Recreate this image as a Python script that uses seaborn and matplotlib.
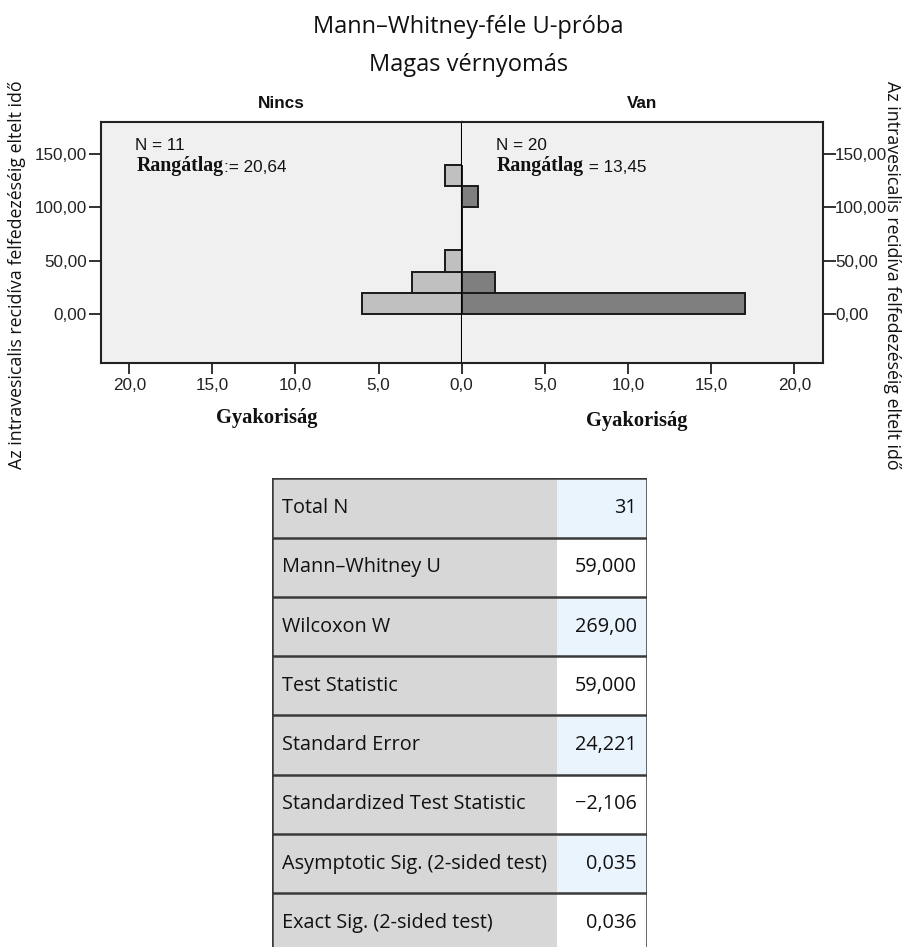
import numpy as np
import pandas as pd
import seaborn as sns
import matplotlib.pyplot as plt
from matplotlib.patches import Rectangle

# histogram bins (time, lower edges) and counts per group
bin_edges = [0, 20, 40, 60, 80, 100, 120, 140]
counts_nincs = [6, 3, 1, 0, 0, 0, 1]
counts_van = [17, 2, 0, 0, 0, 1, 0]

group_names = ["Nincs", "Van"]
group_n = [11, 20]
rank_means = ["20,64", "13,45"]

y_ticks = [0, 50, 100, 150]
x_ticks = [0, 5, 10, 15, 20]

# test summary table
stat_labels = ["Total N", "Mann\u2013Whitney U", "Wilcoxon W", "Test Statistic",
               "Standard Error", "Standardized Test Statistic",
               "Asymptotic Sig. (2-sided test)", "Exact Sig. (2-sided test)"]
stat_values = ["31", "59,000", "269,00", "59,000", "24,221", "\u22122,106", "0,035", "0,036"]

sns.set_theme(style="white")
plt.rcParams['font.family'] = ['Liberation Sans', 'DejaVu Sans']

W, H = 909, 947
fig = plt.figure(figsize=(W / 100, H / 100), dpi=100)

def fx(px):
    return px / W

def fy(px):
    return 1 - px / H

top, bot = 121.7, 362.7
ax_l = fig.add_axes([fx(101), fy(bot), fx(461.7 - 101), (bot - top) / H])
ax_r = fig.add_axes([fx(461.7), fy(bot), fx(822.7 - 461.7), (bot - top) / H])

centers = [e + 10 for e in bin_edges[:-1]]
hist_df = pd.DataFrame({"t": centers, "nincs": counts_nincs, "van": counts_van})

sns.histplot(data=hist_df, y="t", weights="nincs", bins=bin_edges, ax=ax_l,
             color="#c0c0c0", edgecolor="#1a1a1a", linewidth=1.4, alpha=1)
sns.histplot(data=hist_df, y="t", weights="van", bins=bin_edges, ax=ax_r,
             color="#7f7f7f", edgecolor="#1a1a1a", linewidth=1.4, alpha=1)

def fmt2(v):
    return f"{v:.2f}".replace(".", ",")

def fmt1(v):
    return f"{v:.1f}".replace(".", ",")

for ax in (ax_l, ax_r):
    ax.set_facecolor("#f0f0f0")
    ax.set_xlim(0, 21.7)
    ax.set_ylim(-45, 180)
    ax.set_xlabel("Gyakoriság", fontfamily="Liberation Serif", fontweight="bold",
                  fontsize=14.8, color="#111111")
    ax.xaxis.label.set_va("center")
    ax.set_ylabel("")
    for s in ax.spines.values():
        s.set_color("#222222")
        s.set_linewidth(1.5)
    ax.tick_params(axis="both", which="both", direction="out", colors="#222222",
                   labelcolor="#222222", labelsize=12.3, width=1.3)

ax_l.invert_xaxis()
ax_l.set_xticks(x_ticks)
ax_l.set_xticklabels([fmt1(v) for v in x_ticks])
ax_r.set_xticks(x_ticks[1:])
ax_r.set_xticklabels([fmt1(v) for v in x_ticks[1:]])
ax_l.tick_params(axis="x", bottom=True, length=8, pad=3)
ax_r.tick_params(axis="x", bottom=True, length=8, pad=3)

ax_l.set_yticks(y_ticks)
ax_l.set_yticklabels([fmt2(v) for v in y_ticks])
ax_l.tick_params(axis="y", left=True, length=9, pad=1)
ax_r.yaxis.tick_right()
ax_r.set_yticks(y_ticks)
ax_r.set_yticklabels([fmt2(v) for v in y_ticks])
ax_r.tick_params(axis="y", right=True, left=False, length=9, pad=0)
ax_r.spines["left"].set_visible(False)
ax_l.spines["right"].set_color("black")

ax_l.xaxis.set_label_coords(0.459, -0.229)
ax_r.xaxis.set_label_coords(0.485, -0.242)

for ax, name, n, rm, xn, xr in [(ax_l, group_names[0], group_n[0], rank_means[0], 0.094, 0.1),
                                (ax_r, group_names[1], group_n[1], rank_means[1], 0.095, 0.097)]:
    ax.set_title(name, fontsize=12.3, fontweight="bold", color="#111111", pad=10)
    ax.text(xn, 0.90, f"N = {n}", transform=ax.transAxes, fontsize=12.3,
            color="#111111", va="center", ha="left")
    t1 = ax.text(xr, 0.795, "Rangátlag", transform=ax.transAxes,
                 fontfamily="Liberation Serif", fontweight="bold", fontsize=14.3,
                 color="#111111", va="baseline", ha="left")
    sep = ":= " if ax is ax_l else " = "
    ax.annotate(sep + rm, xy=(1, 0), xycoords=t1, xytext=(0, 0.5),
                textcoords="offset points", fontsize=12.3, color="#111111",
                va="bottom", ha="left")

# titles and side labels
fig.text(fx(468), fy(27), "Mann\u2013Whitney-féle U-próba", ha="center", va="center",
         fontfamily="Open Sans", fontsize=17, color="#111111")
fig.text(fx(469), fy(65), "Magas vérnyomás", ha="center", va="center",
         fontfamily="Open Sans", fontsize=17, color="#111111")
ylab = "Az intravesicalis recidíva felfedezéséig eltelt idő"
fig.text(fx(17), fy(275), ylab, rotation=90, ha="center", va="center",
         fontfamily="Open Sans", fontsize=12.8, color="#111111")
fig.text(fx(892), fy(275), ylab, rotation=270, ha="center", va="center",
         fontfamily="Open Sans", fontsize=12.8, color="#111111")

# table
tab_top = 478.3
row_h = 59.3
n_rows = len(stat_labels)
ax_t = fig.add_axes([fx(272), fy(tab_top + n_rows * row_h), fx(647 - 272), n_rows * row_h / H])
ax_t.set_xlim(0, 1)
ax_t.set_ylim(n_rows, 0)
ax_t.axis("off")
split = (556.7 - 272) / (647 - 272)
for i, (lab, val) in enumerate(zip(stat_labels, stat_values)):
    ax_t.add_patch(Rectangle((0, i), split, 1, facecolor="#d7d7d7", edgecolor="none"))
    vcol = "#eaf4fc" if i % 2 == 0 else "#ffffff"
    ax_t.add_patch(Rectangle((split, i), 1 - split, 1, facecolor=vcol, edgecolor="none"))
    ax_t.text(0.026, i + 0.5, lab, ha="left", va="center", fontfamily="Open Sans",
              fontsize=14.3, color="#111111")
    ax_t.text(0.973, i + 0.5, val, ha="right", va="center", fontfamily="Open Sans",
              fontsize=14.3, color="#111111")
for i in range(n_rows + 1):
    ax_t.axhline(i, color="#3a3a3a", linewidth=1.8)
ax_t.axvline(0, color="#3a3a3a", linewidth=1.8)
ax_t.axvline(1, color="#3a3a3a", linewidth=1.8)

fig.savefig("out.png", dpi=100)
